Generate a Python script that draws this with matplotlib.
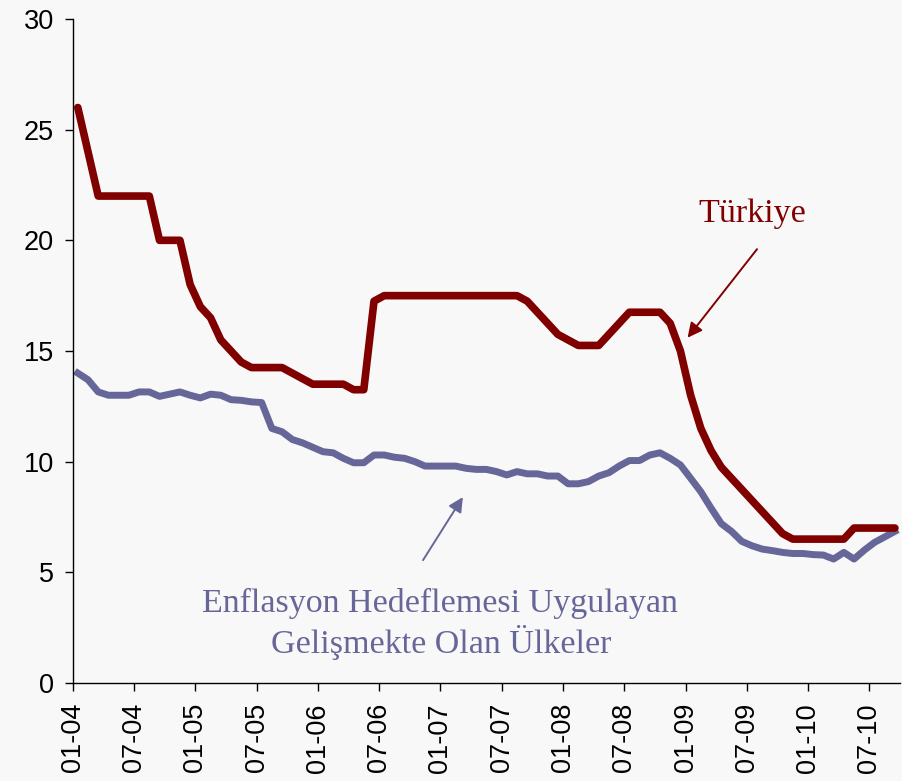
import matplotlib
matplotlib.use('Agg')
import matplotlib.pyplot as plt
import numpy as np

# monthly policy rates, 01-2004 .. 09-2010
turkiye = [26, 24, 22, 22, 22, 22, 22, 22, 20, 20,
           20, 18, 17, 16.5, 15.5, 15, 14.5, 14.25, 14.25, 14.25,
           14.25, 14, 13.75, 13.5, 13.5, 13.5, 13.5, 13.25, 13.25, 17.25,
           17.5, 17.5, 17.5, 17.5, 17.5, 17.5, 17.5, 17.5, 17.5, 17.5,
           17.5, 17.5, 17.5, 17.5, 17.25, 16.75, 16.25, 15.75, 15.5, 15.25,
           15.25, 15.25, 15.75, 16.25, 16.75, 16.75, 16.75, 16.75, 16.25, 15,
           13, 11.5, 10.5, 9.75, 9.25, 8.75, 8.25, 7.75, 7.25, 6.75,
           6.5, 6.5, 6.5, 6.5, 6.5, 6.5, 7, 7, 7, 7,
           7]
gelismekte = [14.0, 13.7, 13.15, 13.0, 13.0, 13.0, 13.15, 13.15, 12.95, 13.05,
              13.15, 13.0, 12.88, 13.05, 13.0, 12.8, 12.77, 12.7, 12.67, 11.5,
              11.35, 11.0, 10.85, 10.65, 10.45, 10.4, 10.15, 9.95, 9.95, 10.3,
              10.3, 10.2, 10.15, 10.0, 9.8, 9.8, 9.8, 9.8, 9.7, 9.65,
              9.65, 9.55, 9.4, 9.55, 9.45, 9.45, 9.35, 9.35, 9.0, 9.0,
              9.1, 9.35, 9.5, 9.8, 10.05, 10.05, 10.3, 10.4, 10.15, 9.85,
              9.25, 8.64, 7.9, 7.2, 6.85, 6.4, 6.2, 6.05, 5.98, 5.9,
              5.85, 5.85, 5.8, 5.78, 5.6, 5.9, 5.6, 6.0, 6.35, 6.6,
              6.85]
tick_labels = ['01-04', '07-04', '01-05', '07-05', '01-06', '07-06', '01-07',
               '07-07', '01-08', '07-08', '01-09', '07-09', '01-10', '07-10']

red = '#800000'
blue = '#666699'

months = np.arange(len(turkiye)) + 0.5

fig = plt.figure(figsize=(9.03, 7.81), dpi=100, facecolor='#f8f8f8')
ax = fig.add_axes([0.0805, 0.1255, 0.9162, 0.8502])
ax.set_facecolor('#f8f8f8')

ax.plot(months, gelismekte, color=blue, linewidth=5.0, solid_joinstyle='round')
ax.plot(months, turkiye, color=red, linewidth=5.5, solid_joinstyle='round',
        solid_capstyle='round')

ax.set_xlim(0, len(turkiye))
ax.set_ylim(0, 30)
ax.set_yticks(range(0, 31, 5))
ax.set_xticks(np.arange(0, len(turkiye), 6))
ax.set_xticklabels(tick_labels, rotation=90)

for s in ['top', 'right']:
    ax.spines[s].set_visible(False)
for s in ['left', 'bottom']:
    ax.spines[s].set_linewidth(1.0)
ax.tick_params(direction='out', length=5.5, width=1, labelsize=19.5)
ax.tick_params(axis='y', pad=8)
ax.tick_params(axis='x', pad=9)
for lab in ax.get_xticklabels() + ax.get_yticklabels():
    lab.set_family('Liberation Sans')

serif = 'Liberation Serif'
ax.text(66.5, 20.83, 'Türkiye', color=red, fontsize=24.5, family=serif,
        ha='center', va='baseline')
ax.text(36.0, 3.22, 'Enflasyon Hedeflemesi Uygulayan', color=blue,
        fontsize=24.5, family=serif, ha='center', va='baseline')
ax.text(36.1, 1.34, 'Gelişmekte Olan Ülkeler', color=blue,
        fontsize=24.5, family=serif, ha='center', va='baseline')

ax.annotate('', xy=(60.2, 15.6), xytext=(67.0, 19.6),
            arrowprops=dict(arrowstyle='-|>', color=red, lw=1.4,
                            mutation_scale=22, shrinkA=0, shrinkB=0))
ax.annotate('', xy=(38.2, 8.4), xytext=(34.3, 5.55),
            arrowprops=dict(arrowstyle='-|>', color=blue, lw=1.4,
                            mutation_scale=22, shrinkA=0, shrinkB=0))

plt.savefig('out.png', dpi=100, facecolor=fig.get_facecolor())
